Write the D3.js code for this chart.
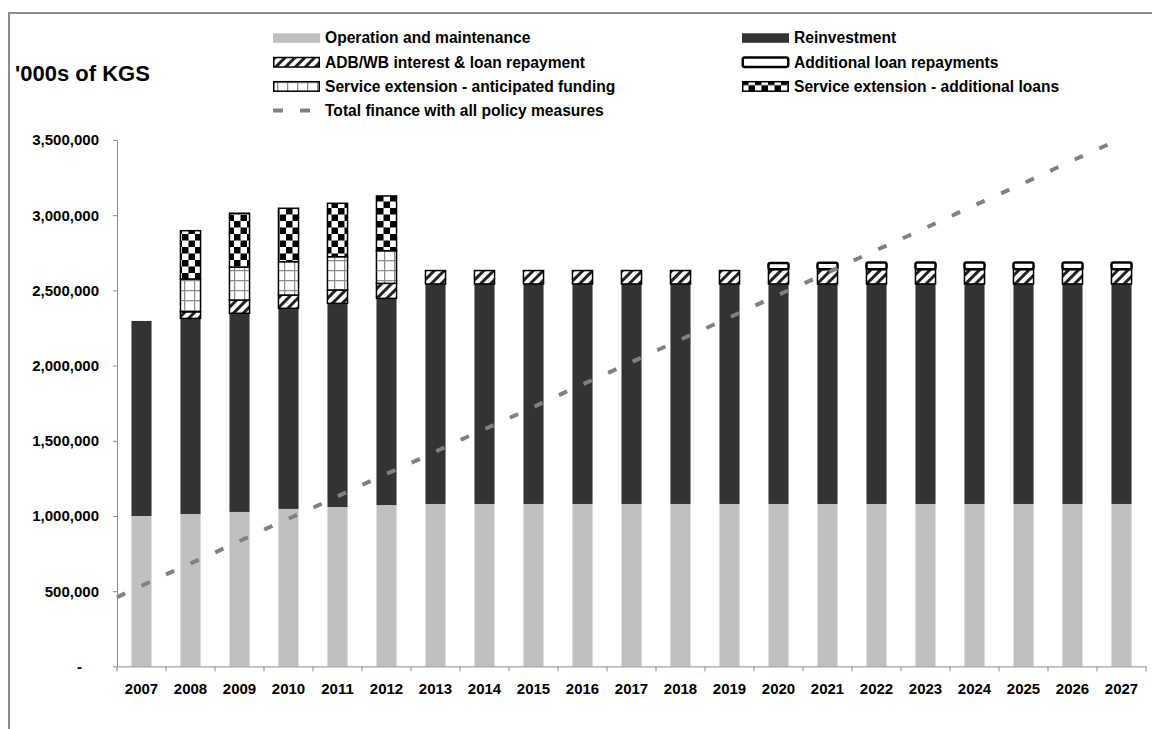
<!DOCTYPE html>
<html>
<head>
<meta charset="utf-8">
<script src="https://cdn.jsdelivr.net/npm/d3@7"></script>
<style>
  body { margin: 0; background: #fff; }
  svg { display: block; font-family: 'Liberation Sans', Arial, sans-serif; font-weight: bold; }
</style>
</head>
<body>
<svg id="chart" width="1152" height="729"></svg>
<script>
const years = ['2007','2008','2009','2010','2011','2012','2013','2014','2015','2016','2017',
  '2018','2019','2020','2021','2022','2023','2024','2025','2026','2027'];

// '000s of KGS
const operation = [1000000, 1013000, 1027000, 1047000, 1060000, 1073000, 1080000, 1080000, 1080000,
  1080000, 1080000, 1080000, 1080000, 1080000, 1080000, 1080000, 1080000, 1080000, 1080000, 1080000, 1080000];
const reinvestment = [1297000, 1301000, 1321000, 1334000, 1354000, 1374000, 1463000, 1463000, 1463000,
  1463000, 1463000, 1463000, 1463000, 1463000, 1463000, 1463000, 1463000, 1463000, 1463000, 1463000, 1463000];
const adbRepayment = [0, 44000, 88000, 88000, 89000, 100000, 89000, 89000, 89000, 89000, 89000,
  89000, 89000, 97000, 97000, 97000, 97000, 97000, 97000, 97000, 97000];
const additionalRepayment = [0, 0, 0, 0, 0, 0, 0, 0, 0, 0, 0,
  0, 0, 42000, 44000, 45000, 45000, 45000, 45000, 45000, 45000];
const anticipatedFunding = [0, 218000, 218000, 222000, 221000, 217000, 0, 0, 0, 0, 0,
  0, 0, 0, 0, 0, 0, 0, 0, 0, 0];
const additionalLoans = [0, 321000, 359000, 355000, 355000, 364000, 0, 0, 0, 0, 0,
  0, 0, 0, 0, 0, 0, 0, 0, 0, 0];
const totalFinance = [460000, 615000, 765000, 920000, 1070000, 1225000, 1375000, 1530000, 1680000,
  1835000, 1985000, 2140000, 2290000, 2445000, 2595000, 2750000, 2900000, 3055000, 3205000, 3360000, 3510000];

const yTicks = [0, 500000, 1000000, 1500000, 2000000, 2500000, 3000000, 3500000];

const series = [
  { key: 'om', label: 'Operation and maintenance', values: operation, fill: '#c0c0c0', stroke: 'none' },
  { key: 're', label: 'Reinvestment', values: reinvestment, fill: '#333333', stroke: 'none' },
  { key: 'adb', label: 'ADB/WB interest & loan repayment', values: adbRepayment, fill: 'url(#hatch)', stroke: '#000' },
  { key: 'add', label: 'Additional loan repayments', values: additionalRepayment, fill: '#fff', stroke: '#000' },
  { key: 'ant', label: 'Service extension - anticipated funding', values: anticipatedFunding, fill: 'url(#grid)', stroke: '#000' },
  { key: 'chk', label: 'Service extension - additional loans', values: additionalLoans, fill: 'url(#checker)', stroke: '#000' }
];

const svg = d3.select('#chart');
const margin = { top: 140, left: 117, right: 6, bottom: 62 };
const width = +svg.attr('width');
const height = +svg.attr('height');
const y0 = height - margin.bottom - 0.6;

// patterns
const defs = svg.append('defs');
const hatch = defs.append('pattern')
  .attr('id', 'hatch')
  .attr('patternUnits', 'userSpaceOnUse')
  .attr('width', 7).attr('height', 7)
  .attr('patternTransform', 'rotate(45)');
hatch.append('rect').attr('width', 7).attr('height', 7).attr('fill', '#fff');
hatch.append('rect').attr('width', 3).attr('height', 7).attr('fill', '#222');

const grid = defs.append('pattern')
  .attr('id', 'grid')
  .attr('patternUnits', 'userSpaceOnUse')
  .attr('x', 4)
  .attr('width', 10).attr('height', 10);
grid.append('rect').attr('width', 10).attr('height', 10).attr('fill', '#fff');
grid.append('path').attr('d', 'M0,0.5H10M0.5,0V10')
  .attr('stroke', '#8c8c8c').attr('stroke-width', 1.5);

const checker = defs.append('pattern')
  .attr('id', 'checker')
  .attr('patternUnits', 'userSpaceOnUse')
  .attr('width', 13).attr('height', 13);
checker.append('rect').attr('width', 13).attr('height', 13).attr('fill', '#fff');
checker.append('rect').attr('width', 6.5).attr('height', 6.5).attr('fill', '#000');
checker.append('rect').attr('x', 6.5).attr('y', 6.5).attr('width', 6.5).attr('height', 6.5).attr('fill', '#000');

// chart border
svg.append('path')
  .attr('d', `M9,${height}V13H${width}`)
  .attr('fill', 'none')
  .attr('stroke', '#8c8c8c')
  .attr('stroke-width', 2);

const xScale = d3.scaleBand()
  .domain(years)
  .range([margin.left, width - margin.right])
  .paddingInner(0.59)
  .paddingOuter(0.295);

const yScale = d3.scaleLinear()
  .domain([0, 3500000])
  .range([y0, margin.top]);

const table = years.map((year, i) => {
  const row = { year };
  series.forEach(s => row[s.key] = s.values[i]);
  return row;
});

const stacked = d3.stack().keys(series.map(s => s.key))(table);

const barsG = svg.append('g').attr('class', 'bars');
stacked.forEach((layer, li) => {
  const s = series[li];
  barsG.append('g')
    .attr('class', s.key)
    .selectAll('rect')
    .data(layer.filter(d => d[1] - d[0] > 0))
    .enter().append('rect')
      .attr('x', d => xScale(d.data.year))
      .attr('y', d => yScale(d[1]))
      .attr('width', xScale.bandwidth())
      .attr('height', d => yScale(d[0]) - yScale(d[1]))
      .attr('rx', s.key === 'add' ? 2 : 0)
      .attr('fill', s.fill)
      .attr('stroke', s.stroke)
      .attr('stroke-width', s.key === 'add' ? 2.5 : 1.5);
});

// total finance line
const lineX = d3.scalePoint()
  .domain(years)
  .range([margin.left, xScale(years[years.length - 1]) + xScale.bandwidth() / 2]);

const line = d3.line()
  .x((d, i) => lineX(years[i]))
  .y(d => yScale(d));

svg.append('path')
  .datum(totalFinance)
  .attr('d', line)
  .attr('fill', 'none')
  .attr('stroke', '#808080')
  .attr('stroke-width', 4)
  .attr('stroke-dasharray', '9,18');

// axes
const axisConfig = AxisG => {
  AxisG.selectAll('.domain').attr('stroke', '#8c8c8c');
  AxisG.selectAll('line').attr('stroke', '#8c8c8c');
  AxisG.selectAll('text')
    .attr('font-size', 15)
    .attr('font-weight', 'bold')
    .attr('font-family', "'Liberation Sans', Arial, sans-serif")
    .attr('fill', '#000');
};

const yAxis = d3.axisLeft(yScale)
  .tickValues(yTicks)
  .tickSize(4)
  .tickSizeOuter(0)
  .tickPadding(14)
  .tickFormat(d => d === 0 ? '-' : d3.format(',')(d));

svg.append('g')
  .attr('class', 'y-axis')
  .attr('transform', `translate(${margin.left}, 0)`)
  .call(yAxis)
  .call(axisConfig)
  .call(g => g.selectAll('.tick')
    .filter(d => d === 0)
    .select('text')
    .attr('x', -35));

const xAxis = d3.axisBottom(xScale)
  .tickSize(0)
  .tickSizeOuter(0)
  .tickPadding(17);

const xAxisG = svg.append('g')
  .attr('class', 'x-axis')
  .attr('transform', `translate(0, ${y0})`)
  .call(xAxis)
  .call(axisConfig);

const gap = (xScale.step() - xScale.bandwidth()) / 2;
const bounds = years.map(d => xScale(d) - gap).concat([width - margin.right]);
xAxisG.selectAll('.bound')
  .data(bounds)
  .enter().append('line')
    .attr('class', 'bound')
    .attr('x1', d => d).attr('x2', d => d)
    .attr('y1', 0).attr('y2', 5)
    .attr('stroke', '#8c8c8c');

// y title
svg.append('text')
  .attr('x', 15)
  .attr('y', 81)
  .attr('font-size', 22)
  .text("'000s of KGS");

// legend
const legendItems = [
  { s: series[0], col: 0, row: 0 },
  { s: series[1], col: 1, row: 0 },
  { s: series[2], col: 0, row: 1 },
  { s: series[3], col: 1, row: 1 },
  { s: series[4], col: 0, row: 2 },
  { s: series[5], col: 1, row: 2 }
];
const colX = [273, 742];
const rowY = [43.3, 67.5, 91.7, 115.6];

const legend = svg.append('g').attr('class', 'legend');
const items = legend.selectAll('.item')
  .data(legendItems)
  .enter().append('g')
    .attr('class', 'item')
    .attr('transform', d => `translate(${colX[d.col]}, ${rowY[d.row]})`);

items.append('rect')
  .attr('x', d => d.s.stroke === 'none' ? 0 : 0.75)
  .attr('y', -10)
  .attr('width', d => d.s.stroke === 'none' ? 47 : 45.5)
  .attr('height', 9.5)
  .attr('rx', d => d.s.key === 'add' ? 2 : 0)
  .attr('fill', d => d.s.fill)
  .attr('stroke', d => d.s.stroke)
  .attr('stroke-width', d => d.s.key === 'add' ? 2.5 : 1.5);

items.append('text')
  .attr('x', 52)
  .attr('font-size', 15.6)
  .text(d => d.s.label);

const lineLegend = legend.append('g')
  .attr('transform', `translate(${colX[0]}, ${rowY[3]})`);
lineLegend.append('line')
  .attr('x1', 0).attr('x2', 47)
  .attr('y1', -5).attr('y2', -5)
  .attr('stroke', '#808080')
  .attr('stroke-width', 4)
  .attr('stroke-dasharray', '10,17');
lineLegend.append('text')
  .attr('x', 52)
  .attr('font-size', 15.6)
  .text('Total finance with all policy measures');
</script>
</body>
</html>
